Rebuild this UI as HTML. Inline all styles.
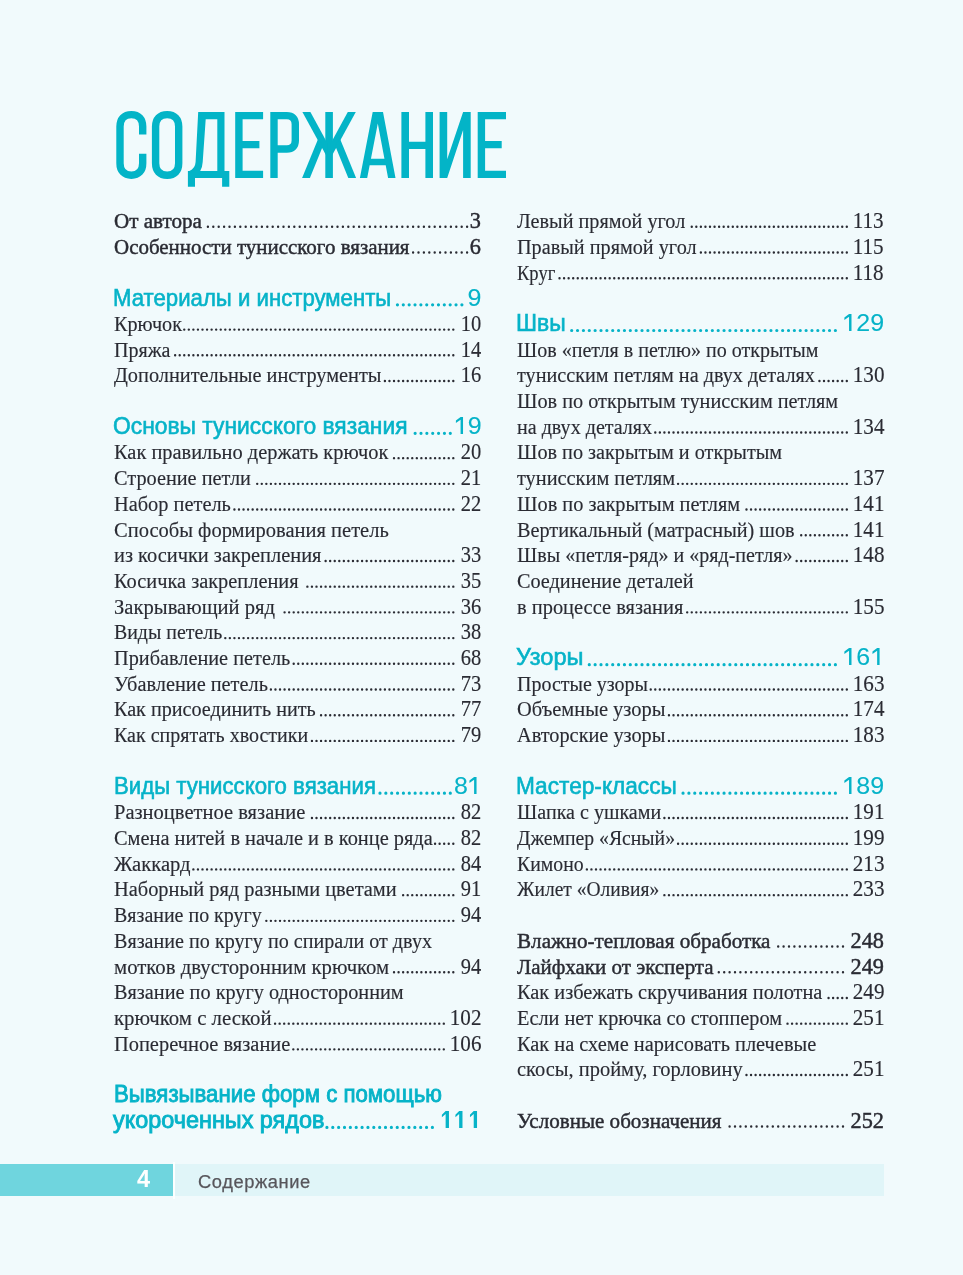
<!DOCTYPE html>
<html lang="ru"><head><meta charset="utf-8"><title>Содержание</title>
<style>
html,body{margin:0;padding:0}
body{width:963px;height:1275px;background:#f1fafc;position:relative;overflow:hidden;font-family:"Liberation Serif",serif;color:#2a2b33}
.t{position:absolute;white-space:pre;transform-origin:0 0}
.r{font:400 21.3px/21.3px "Liberation Serif",serif;-webkit-text-stroke:0.15px #2a2b33}
.b{font:400 21.3px/21.3px "Liberation Serif",serif;-webkit-text-stroke:0.45px #2a2b33}
.h{font:400 23.8px/23.8px "Liberation Sans",sans-serif;color:#06b3c8;-webkit-text-stroke:0.6px #06b3c8}
.nr{font:400 22.3px/22.3px "Liberation Serif",serif;transform-origin:100% 0;-webkit-text-stroke:0.15px #2a2b33}
.nb{font:400 22.3px/22.3px "Liberation Serif",serif;transform-origin:100% 0;-webkit-text-stroke:0.45px #2a2b33}
.nh{font:400 24px/24px "Liberation Sans",sans-serif;color:#06b3c8;transform-origin:100% 0;-webkit-text-stroke:0.1px #06b3c8}
.hb{-webkit-text-stroke:0.9px #06b3c8}
.one{fill:#06b3c8;vertical-align:baseline;overflow:visible}
svg.ov{position:absolute;left:0;top:0}
.dr{stroke:#2a2b33;stroke-width:2.4;stroke-dasharray:0 4.56;stroke-linecap:round}
.db{stroke:#2a2b33;stroke-width:2.4;stroke-dasharray:0 5.4;stroke-linecap:round}
.dh{stroke:#06b3c8;stroke-width:3.2;stroke-dasharray:0 5.86;stroke-linecap:round}
</style></head>
<body>
<svg class="ov" width="963" height="1275" viewBox="0 0 963 1275">
<g id="title" fill="#03b4c7" stroke="none">
<path d="M142.7 134.6V126.60C142.70 118.92 138.61 114.60 131.35 114.60C124.09 114.60 120.00 118.92 120.00 126.60V163.20C120.00 170.88 124.09 175.20 131.35 175.20C138.61 175.20 142.70 170.88 142.70 163.20V153.8" fill="none" stroke="#03b4c7" stroke-width="7.4"/>
<path d="M155.6 126.60C155.60 118.92 159.76 114.60 167.15 114.60C174.54 114.60 178.70 118.92 178.70 126.60V163.20C178.70 170.88 174.54 175.20 167.15 175.20C159.76 175.20 155.60 170.88 155.60 163.20Z" fill="none" stroke="#03b4c7" stroke-width="7.4"/>
<path fill-rule="evenodd" d="M198.2 112H224.5V170.9H229.3V186.8H222.1V178H195V186.8H187.9V170.9H189.4Q195.2 168.5 195.6 162ZM205.7 119.3H217.3V170.9H200.2Q202.4 167.5 202.7 162Z"/>
<path d="M235.2 112H263.1V119.3H242.6V141.1H259.4V148.3H242.6V170.7H263.1V178H235.2Z"/>
<path d="M270.3 112H277.7V178H270.3Z"/>
<path d="M274 115.65H286.8C292.3 115.65 295.3 118.6 295.3 124.2V140.5C295.3 146 292.3 149 286.8 149H274" fill="none" stroke="#03b4c7" stroke-width="7.4"/>
<path d="M325.3 112H332.9V178H325.3Z"/>
<path d="M302.4 112H310.4L327.3 142.95V157.6Z"/>
<path d="M302.1 178L318.4 138.2L323 145.8L309.9 178Z"/>
<path d="M355.8 112H347.8L330.9 142.95V157.6Z"/>
<path d="M356.1 178L339.8 138.2L335.2 145.8L348.3 178Z"/>
<path fill-rule="evenodd" d="M359.9 178L372.7 112H383L395.5 178H388.1L385.7 165.3H369.66L367.2 178ZM370.94 158.7H384.45L377.8 123.4Z"/>
<path d="M401.4 112H409V141.7H425.4V112H433V178H425.4V149H409V178H401.4Z"/>
<path d="M439.6 112H447.2V159.3L463.1 112H470.7V178H463.1V130L447.2 178H439.6Z"/>
<path d="M477.7 112H506V119.3H485.09999999999997V141.1H501.7V148.3H485.09999999999997V170.7H506V178H477.7Z"/>
</g>

<g fill="none">
<line class="db" x1="467.10" y1="226.80" x2="207.89" y2="226.80"/>
<line class="db" x1="467.10" y1="252.51" x2="413.09" y2="252.51"/>
<line class="dh" x1="461.90" y1="304.81" x2="397.43" y2="304.81"/>
<line class="dr" x1="453.30" y1="329.62" x2="184.25" y2="329.62"/>
<line class="dr" x1="453.30" y1="355.32" x2="175.13" y2="355.32"/>
<line class="dr" x1="453.30" y1="381.03" x2="384.89" y2="381.03"/>
<line class="dh" x1="450.30" y1="433.34" x2="415.13" y2="433.34"/>
<line class="dr" x1="453.30" y1="458.14" x2="394.01" y2="458.14"/>
<line class="dr" x1="453.30" y1="483.85" x2="257.21" y2="483.85"/>
<line class="dr" x1="453.30" y1="509.56" x2="234.41" y2="509.56"/>
<line class="dr" x1="453.30" y1="560.96" x2="325.61" y2="560.96"/>
<line class="dr" x1="453.30" y1="586.67" x2="307.37" y2="586.67"/>
<line class="dr" x1="453.30" y1="612.37" x2="284.57" y2="612.37"/>
<line class="dr" x1="453.30" y1="638.08" x2="225.29" y2="638.08"/>
<line class="dr" x1="453.30" y1="663.78" x2="293.69" y2="663.78"/>
<line class="dr" x1="453.30" y1="689.49" x2="270.89" y2="689.49"/>
<line class="dr" x1="453.30" y1="715.19" x2="321.05" y2="715.19"/>
<line class="dr" x1="453.30" y1="740.90" x2="311.93" y2="740.90"/>
<line class="dh" x1="450.30" y1="793.21" x2="379.97" y2="793.21"/>
<line class="dr" x1="453.30" y1="818.01" x2="311.93" y2="818.01"/>
<line class="dr" x1="453.30" y1="843.72" x2="435.05" y2="843.72"/>
<line class="dr" x1="453.30" y1="869.42" x2="193.37" y2="869.42"/>
<line class="dr" x1="453.30" y1="895.13" x2="403.13" y2="895.13"/>
<line class="dr" x1="453.30" y1="920.83" x2="266.33" y2="920.83"/>
<line class="dr" x1="453.30" y1="972.24" x2="394.01" y2="972.24"/>
<line class="dr" x1="443.80" y1="1023.65" x2="275.07" y2="1023.65"/>
<line class="dr" x1="443.80" y1="1049.36" x2="293.31" y2="1049.36"/>
<line class="dh" x1="432.40" y1="1127.38" x2="326.91" y2="1127.38"/>
<line class="dr" x1="846.80" y1="226.80" x2="691.75" y2="226.80"/>
<line class="dr" x1="846.80" y1="252.51" x2="700.87" y2="252.51"/>
<line class="dr" x1="846.80" y1="278.21" x2="559.51" y2="278.21"/>
<line class="dh" x1="835.40" y1="330.52" x2="571.69" y2="330.52"/>
<line class="dr" x1="846.80" y1="381.03" x2="819.43" y2="381.03"/>
<line class="dr" x1="846.80" y1="432.44" x2="655.27" y2="432.44"/>
<line class="dr" x1="846.80" y1="483.85" x2="678.07" y2="483.85"/>
<line class="dr" x1="846.80" y1="509.56" x2="746.47" y2="509.56"/>
<line class="dr" x1="846.80" y1="535.26" x2="801.19" y2="535.26"/>
<line class="dr" x1="846.80" y1="560.96" x2="796.63" y2="560.96"/>
<line class="dr" x1="846.80" y1="612.37" x2="687.19" y2="612.37"/>
<line class="dh" x1="835.40" y1="664.68" x2="589.27" y2="664.68"/>
<line class="dr" x1="846.80" y1="689.49" x2="650.71" y2="689.49"/>
<line class="dr" x1="846.80" y1="715.19" x2="668.95" y2="715.19"/>
<line class="dr" x1="846.80" y1="740.90" x2="668.95" y2="740.90"/>
<line class="dh" x1="835.40" y1="793.21" x2="683.03" y2="793.21"/>
<line class="dr" x1="846.80" y1="818.01" x2="664.39" y2="818.01"/>
<line class="dr" x1="846.80" y1="843.72" x2="678.07" y2="843.72"/>
<line class="dr" x1="846.80" y1="869.42" x2="586.87" y2="869.42"/>
<line class="dr" x1="846.80" y1="895.13" x2="664.39" y2="895.13"/>
<line class="db" x1="843.00" y1="946.54" x2="778.19" y2="946.54"/>
<line class="db" x1="843.00" y1="972.24" x2="718.79" y2="972.24"/>
<line class="dr" x1="846.80" y1="997.95" x2="828.55" y2="997.95"/>
<line class="dr" x1="846.80" y1="1023.65" x2="787.51" y2="1023.65"/>
<line class="dr" x1="846.80" y1="1075.07" x2="746.47" y2="1075.07"/>
<line class="db" x1="843.00" y1="1126.47" x2="729.59" y2="1126.47"/>
</g>
</svg>
<div id="txt" style="position:absolute;left:0;top:0;width:963px;height:1275px;will-change:transform">
<div class="t b" style="left:113.5px;top:211px;transform:scaleX(0.9900)">От автора</div>
<div class="t nb" style="right:482px;top:210px;transform:scaleX(1.0000)">3</div>
<div class="t b" style="left:113.5px;top:237px;transform:scaleX(0.9836)">Особенности тунисского вязания</div>
<div class="t nb" style="right:482px;top:236px;transform:scaleX(1.0000)">6</div>
<div class="t h" style="left:112.7px;top:286px;transform:scaleX(0.9323)">Материалы и инструменты</div>
<div class="t nh" style="right:481.5px;top:286px;transform:scaleX(1.0400)">9</div>
<div class="t r" style="left:113.5px;top:314px;transform:scaleX(0.9488)">Крючок</div>
<div class="t nr" style="right:482px;top:313px;transform:scaleX(0.9190)">10</div>
<div class="t r" style="left:113.5px;top:340px;transform:scaleX(0.9400)">Пряжа</div>
<div class="t nr" style="right:482px;top:339px;transform:scaleX(0.9190)">14</div>
<div class="t r" style="left:113.5px;top:365px;transform:scaleX(0.9539)">Дополнительные инструменты</div>
<div class="t nr" style="right:482px;top:364px;transform:scaleX(0.9190)">16</div>
<div class="t h" style="left:112.9px;top:414px;transform:scaleX(0.9593)">Основы тунисского вязания</div>
<div class="t nh" style="right:481.5px;top:414px;transform:scaleX(1.0400)"><svg class="one" width="13.35" height="17" viewBox="0 0 13.35 17"><path d="M6.40 0H8.75V17H6.40V2.70L1.90 6.10V3.60Z"/></svg>9</div>
<div class="t r" style="left:113.5px;top:442px;transform:scaleX(0.9577)">Как правильно держать крючок</div>
<div class="t nr" style="right:482px;top:441px;transform:scaleX(0.9190)">20</div>
<div class="t r" style="left:113.5px;top:468px;transform:scaleX(0.9525)">Строение петли</div>
<div class="t nr" style="right:482px;top:467px;transform:scaleX(0.9190)">21</div>
<div class="t r" style="left:113.5px;top:494px;transform:scaleX(0.9562)">Набор петель</div>
<div class="t nr" style="right:482px;top:493px;transform:scaleX(0.9190)">22</div>
<div class="t r" style="left:113.5px;top:520px;transform:scaleX(0.9629)">Способы формирования петель</div>
<div class="t r" style="left:113.5px;top:545px;transform:scaleX(0.9580)">из косички закрепления</div>
<div class="t nr" style="right:482px;top:544px;transform:scaleX(0.9190)">33</div>
<div class="t r" style="left:113.5px;top:571px;transform:scaleX(0.9561)">Косичка закрепления</div>
<div class="t nr" style="right:482px;top:570px;transform:scaleX(0.9190)">35</div>
<div class="t r" style="left:113.5px;top:597px;transform:scaleX(0.9677)">Закрывающий ряд</div>
<div class="t nr" style="right:482px;top:596px;transform:scaleX(0.9190)">36</div>
<div class="t r" style="left:113.5px;top:622px;transform:scaleX(0.9325)">Виды петель</div>
<div class="t nr" style="right:482px;top:621px;transform:scaleX(0.9190)">38</div>
<div class="t r" style="left:113.5px;top:648px;transform:scaleX(0.9525)">Прибавление петель</div>
<div class="t nr" style="right:482px;top:647px;transform:scaleX(0.9190)">68</div>
<div class="t r" style="left:113.5px;top:674px;transform:scaleX(0.9535)">Убавление петель</div>
<div class="t nr" style="right:482px;top:673px;transform:scaleX(0.9190)">73</div>
<div class="t r" style="left:113.5px;top:699px;transform:scaleX(0.9460)">Как присоединить нить</div>
<div class="t nr" style="right:482px;top:698px;transform:scaleX(0.9190)">77</div>
<div class="t r" style="left:113.5px;top:725px;transform:scaleX(0.9391)">Как спрятать хвостики</div>
<div class="t nr" style="right:482px;top:724px;transform:scaleX(0.9190)">79</div>
<div class="t h" style="left:113.5px;top:774px;transform:scaleX(0.9330)">Виды тунисского вязания</div>
<div class="t nh" style="right:481.5px;top:774px;transform:scaleX(1.0400)">8<svg class="one" width="13.35" height="17" viewBox="0 0 13.35 17"><path d="M6.40 0H8.75V17H6.40V2.70L1.90 6.10V3.60Z"/></svg></div>
<div class="t r" style="left:113.5px;top:802px;transform:scaleX(0.9632)">Разноцветное вязание</div>
<div class="t nr" style="right:482px;top:801px;transform:scaleX(0.9190)">82</div>
<div class="t r" style="left:113.5px;top:828px;transform:scaleX(0.9572)">Смена нитей в начале и в конце ряда</div>
<div class="t nr" style="right:482px;top:827px;transform:scaleX(0.9190)">82</div>
<div class="t r" style="left:113.5px;top:854px;transform:scaleX(0.9692)">Жаккард</div>
<div class="t nr" style="right:482px;top:853px;transform:scaleX(0.9190)">84</div>
<div class="t r" style="left:113.5px;top:879px;transform:scaleX(0.9580)">Наборный ряд разными цветами</div>
<div class="t nr" style="right:482px;top:878px;transform:scaleX(0.9190)">91</div>
<div class="t r" style="left:113.5px;top:905px;transform:scaleX(0.9374)">Вязание по кругу</div>
<div class="t nr" style="right:482px;top:904px;transform:scaleX(0.9190)">94</div>
<div class="t r" style="left:113.5px;top:931px;transform:scaleX(0.9448)">Вязание по кругу по спирали от двух</div>
<div class="t r" style="left:113.5px;top:957px;transform:scaleX(0.9743)">мотков двусторонним крючком</div>
<div class="t nr" style="right:482px;top:956px;transform:scaleX(0.9190)">94</div>
<div class="t r" style="left:113.5px;top:982px;transform:scaleX(0.9516)">Вязание по кругу односторонним</div>
<div class="t r" style="left:113.5px;top:1008px;transform:scaleX(0.9773)">крючком с леской</div>
<div class="t nr" style="right:482px;top:1007px;transform:scaleX(0.9460)">102</div>
<div class="t r" style="left:113.5px;top:1034px;transform:scaleX(0.9585)">Поперечное вязание</div>
<div class="t nr" style="right:482px;top:1033px;transform:scaleX(0.9460)">106</div>
<div class="t h hb" style="left:113.5px;top:1082px;transform:scaleX(0.9339)">Вывязывание форм с помощью</div>
<div class="t h hb" style="left:112.9px;top:1108px;transform:scaleX(0.9837)">укороченных рядов</div>
<div class="t nh hb" style="right:481.5px;top:1108px;transform:scaleX(1.0400)"><svg class="one" width="13.35" height="17" viewBox="0 0 13.35 17"><path d="M6.00 0H9.20V17H6.00V2.90L2.40 6.30V3.80Z"/></svg><svg class="one" width="13.35" height="17" viewBox="0 0 13.35 17"><path d="M6.00 0H9.20V17H6.00V2.90L2.40 6.30V3.80Z"/></svg><svg class="one" width="13.35" height="17" viewBox="0 0 13.35 17"><path d="M6.00 0H9.20V17H6.00V2.90L2.40 6.30V3.80Z"/></svg></div>
<div class="t r" style="left:516.5px;top:211px;transform:scaleX(0.9488)">Левый прямой угол</div>
<div class="t nr" style="right:79px;top:210px;transform:scaleX(0.9460)">113</div>
<div class="t r" style="left:516.5px;top:237px;transform:scaleX(0.9497)">Правый прямой угол</div>
<div class="t nr" style="right:79px;top:236px;transform:scaleX(0.9460)">115</div>
<div class="t r" style="left:516.5px;top:263px;transform:scaleX(0.8711)">Круг</div>
<div class="t nr" style="right:79px;top:262px;transform:scaleX(0.9460)">118</div>
<div class="t h" style="left:515.9px;top:311px;transform:scaleX(0.9639)">Швы</div>
<div class="t nh" style="right:78.5px;top:311px;transform:scaleX(1.0400)"><svg class="one" width="13.35" height="17" viewBox="0 0 13.35 17"><path d="M6.40 0H8.75V17H6.40V2.70L1.90 6.10V3.60Z"/></svg>29</div>
<div class="t r" style="left:516.5px;top:340px;transform:scaleX(0.9401)">Шов «петля в петлю» по открытым</div>
<div class="t r" style="left:516.5px;top:365px;transform:scaleX(0.9478)">тунисским петлям на двух деталях</div>
<div class="t nr" style="right:79px;top:364px;transform:scaleX(0.9460)">130</div>
<div class="t r" style="left:516.5px;top:391px;transform:scaleX(0.9510)">Шов по открытым тунисским петлям</div>
<div class="t r" style="left:516.5px;top:417px;transform:scaleX(0.9413)">на двух деталях</div>
<div class="t nr" style="right:79px;top:416px;transform:scaleX(0.9460)">134</div>
<div class="t r" style="left:516.5px;top:442px;transform:scaleX(0.9493)">Шов по закрытым и открытым</div>
<div class="t r" style="left:516.5px;top:468px;transform:scaleX(0.9550)">тунисским петлям</div>
<div class="t nr" style="right:79px;top:467px;transform:scaleX(0.9460)">137</div>
<div class="t r" style="left:516.5px;top:494px;transform:scaleX(0.9538)">Шов по закрытым петлям</div>
<div class="t nr" style="right:79px;top:493px;transform:scaleX(0.9460)">141</div>
<div class="t r" style="left:516.5px;top:520px;transform:scaleX(0.9499)">Вертикальный (матрасный) шов</div>
<div class="t nr" style="right:79px;top:519px;transform:scaleX(0.9460)">141</div>
<div class="t r" style="left:516.5px;top:545px;transform:scaleX(0.9414)">Швы «петля-ряд» и «ряд-петля»</div>
<div class="t nr" style="right:79px;top:544px;transform:scaleX(0.9460)">148</div>
<div class="t r" style="left:516.5px;top:571px;transform:scaleX(0.9499)">Соединение деталей</div>
<div class="t r" style="left:516.5px;top:597px;transform:scaleX(0.9588)">в процессе вязания</div>
<div class="t nr" style="right:79px;top:596px;transform:scaleX(0.9460)">155</div>
<div class="t h" style="left:515.6px;top:645px;transform:scaleX(0.9926)">Узоры</div>
<div class="t nh" style="right:78.5px;top:645px;transform:scaleX(1.0400)"><svg class="one" width="13.35" height="17" viewBox="0 0 13.35 17"><path d="M6.40 0H8.75V17H6.40V2.70L1.90 6.10V3.60Z"/></svg>6<svg class="one" width="13.35" height="17" viewBox="0 0 13.35 17"><path d="M6.40 0H8.75V17H6.40V2.70L1.90 6.10V3.60Z"/></svg></div>
<div class="t r" style="left:516.5px;top:674px;transform:scaleX(0.9383)">Простые узоры</div>
<div class="t nr" style="right:79px;top:673px;transform:scaleX(0.9460)">163</div>
<div class="t r" style="left:516.5px;top:699px;transform:scaleX(0.9595)">Объемные узоры</div>
<div class="t nr" style="right:79px;top:698px;transform:scaleX(0.9460)">174</div>
<div class="t r" style="left:516.5px;top:725px;transform:scaleX(0.9528)">Авторские узоры</div>
<div class="t nr" style="right:79px;top:724px;transform:scaleX(0.9460)">183</div>
<div class="t h" style="left:515.7px;top:774px;transform:scaleX(0.9517)">Мастер-классы</div>
<div class="t nh" style="right:78.5px;top:774px;transform:scaleX(1.0400)"><svg class="one" width="13.35" height="17" viewBox="0 0 13.35 17"><path d="M6.40 0H8.75V17H6.40V2.70L1.90 6.10V3.60Z"/></svg>89</div>
<div class="t r" style="left:516.5px;top:802px;transform:scaleX(0.9423)">Шапка с ушками</div>
<div class="t nr" style="right:79px;top:801px;transform:scaleX(0.9460)">191</div>
<div class="t r" style="left:516.5px;top:828px;transform:scaleX(0.9252)">Джемпер «Ясный»</div>
<div class="t nr" style="right:79px;top:827px;transform:scaleX(0.9460)">199</div>
<div class="t r" style="left:516.5px;top:854px;transform:scaleX(0.9278)">Кимоно</div>
<div class="t nr" style="right:79px;top:853px;transform:scaleX(0.9460)">213</div>
<div class="t r" style="left:516.5px;top:879px;transform:scaleX(0.9165)">Жилет «Оливия»</div>
<div class="t nr" style="right:79px;top:878px;transform:scaleX(0.9460)">233</div>
<div class="t b" style="left:516.5px;top:931px;transform:scaleX(0.9922)">Влажно-тепловая обработка</div>
<div class="t nb" style="right:79px;top:930px;transform:scaleX(1.0000)">248</div>
<div class="t b" style="left:516.5px;top:957px;transform:scaleX(0.9848)">Лайфхаки от эксперта</div>
<div class="t nb" style="right:79px;top:956px;transform:scaleX(1.0000)">249</div>
<div class="t r" style="left:516.5px;top:982px;transform:scaleX(0.9549)">Как избежать скручивания полотна</div>
<div class="t nr" style="right:79px;top:981px;transform:scaleX(0.9460)">249</div>
<div class="t r" style="left:516.5px;top:1008px;transform:scaleX(0.9533)">Если нет крючка со стоппером</div>
<div class="t nr" style="right:79px;top:1007px;transform:scaleX(0.9460)">251</div>
<div class="t r" style="left:516.5px;top:1034px;transform:scaleX(0.9554)">Как на схеме нарисовать плечевые</div>
<div class="t r" style="left:516.5px;top:1059px;transform:scaleX(0.9602)">скосы, пройму, горловину</div>
<div class="t nr" style="right:79px;top:1058px;transform:scaleX(0.9460)">251</div>
<div class="t b" style="left:516.5px;top:1111px;transform:scaleX(0.9875)">Условные обозначения</div>
<div class="t nb" style="right:79px;top:1110px;transform:scaleX(1.0000)">252</div>
<div style="position:absolute;left:0;top:1164px;width:172.6px;height:32px;background:#6fd5de"></div>
<div style="position:absolute;left:172.6px;top:1162px;width:2.0px;height:37px;background:#fcffff"></div>
<div style="position:absolute;left:174.6px;top:1164px;width:709.4px;height:32px;background:#e0f5f8"></div>
<div class="t" style="left:137px;top:1167.5px;font:700 23.5px/23.5px 'Liberation Sans',sans-serif;color:#fff">4</div>
<div class="t" id="ftxt" style="left:198px;top:1173px;font:400 18.3px/18.3px 'Liberation Sans',sans-serif;color:#57565b;letter-spacing:0.6px;-webkit-text-stroke:0.25px #57565b">Содержание</div>

</div>
</body></html>
